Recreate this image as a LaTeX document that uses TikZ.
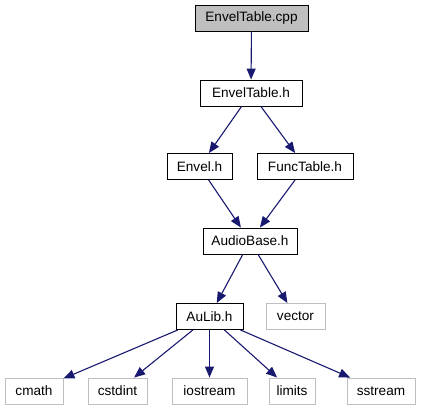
\documentclass[tikz,border=0pt]{standalone}
\usepackage{fontspec}
\setmainfont{Liberation Sans}
\usetikzlibrary{arrows.meta}
\definecolor{edgecol}{RGB}{25,25,112}
\definecolor{extcol}{gray}{0.75}
\definecolor{rootfill}{gray}{0.75}
\tikzset{
  hdr/.style={draw=black,line width=0.9pt,fill=white,minimum height=26pt,inner sep=0pt,font=\fontsize{13.6}{15}\selectfont},
  root/.style={hdr,fill=rootfill},
  ext/.style={hdr,draw=extcol},
  dep/.style={draw=edgecol,line width=1.1pt,-{Triangle[length=11pt,width=9pt]}},
}
\begin{document}
\begin{tikzpicture}[x=1pt,y=1pt]
  \useasboundingbox (0,0) rectangle (421,-411);
  \node[root,minimum width=113pt] (cpp) at (251.5,-18) {EnvelTable.cpp};
  \node[hdr,minimum width=102pt] (envtab) at (251,-93) {EnvelTable.h};
  \node[hdr,minimum width=65pt] (envel) at (199.5,-166.5) {Envel.h};
  \node[hdr,minimum width=96pt] (functab) at (305,-166.5) {FuncTable.h};
  \node[hdr,minimum width=94pt] (audiobase) at (250,-241) {AudioBase.h};
  \node[hdr,minimum width=67pt] (aulib) at (209.5,-316.5) {AuLib.h};
  \node[ext,minimum width=59pt] (vector) at (295.5,-316.5) {vector};
  \node[ext,minimum width=58pt] (cmath) at (34,-391) {cmath};
  \node[ext,minimum width=59pt] (cstdint) at (117.5,-391) {cstdint};
  \node[ext,minimum width=75pt] (iostream) at (209.5,-391) {iostream};
  \node[ext,minimum width=46pt] (limits) at (292,-391) {limits};
  \node[ext,minimum width=68pt] (sstream) at (381,-391) {sstream};
  % includes
  \draw[dep] (cpp) -- (envtab);
  \draw[dep] (envtab) -- (envel);
  \draw[dep] (envtab) -- (functab);
  \draw[dep] (envel) -- (audiobase);
  \draw[dep] (functab) -- (audiobase);
  \draw[dep] (audiobase) -- (aulib);
  \draw[dep] (audiobase) -- (vector);
  \draw[dep] (aulib) -- (cmath);
  \draw[dep] (aulib) -- (cstdint);
  \draw[dep] (aulib) -- (iostream);
  \draw[dep] (aulib) -- (limits);
  \draw[dep] (aulib) -- (sstream);
\end{tikzpicture}
\end{document}
